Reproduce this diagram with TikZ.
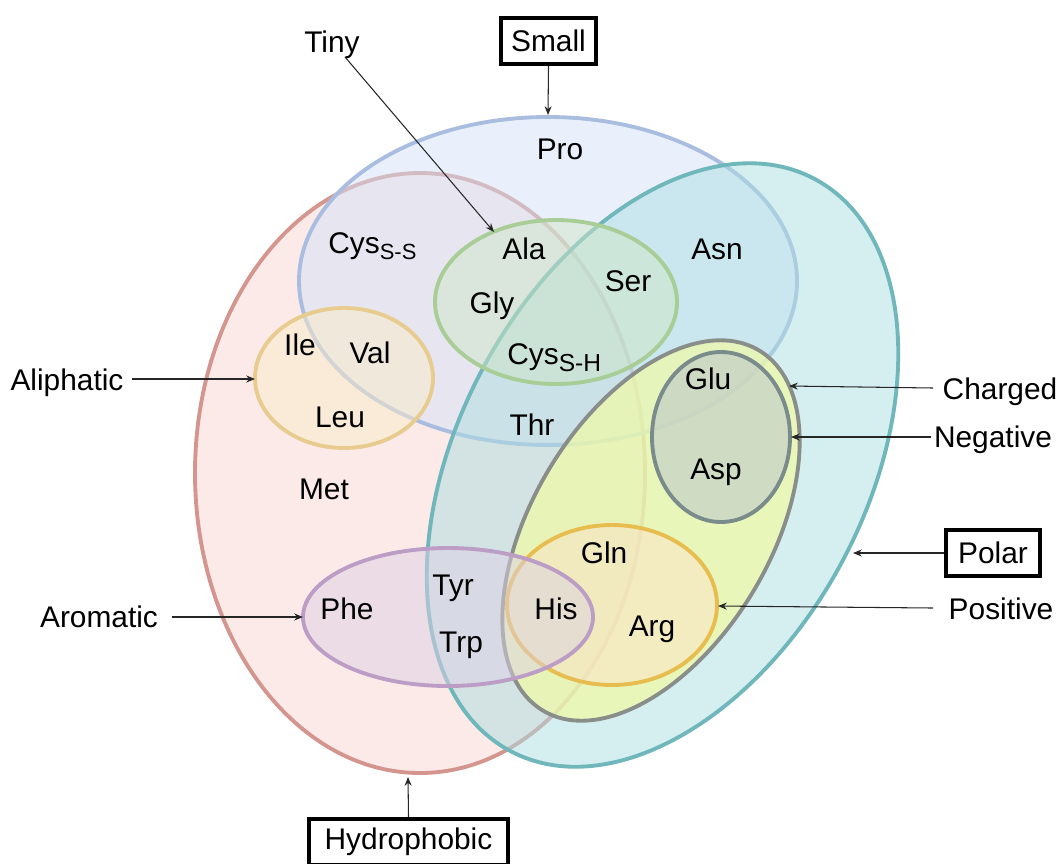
\documentclass[tikz,border=0pt]{standalone}
\usepackage{fontspec}
\setmainfont{Liberation Sans}
\usetikzlibrary{arrows.meta}
\definecolor{hydF}{HTML}{F7D5D1}\definecolor{hydD}{HTML}{D4958F}
\definecolor{smlF}{HTML}{D3E1F7}\definecolor{smlD}{HTML}{A9BDE0}
\definecolor{polF}{HTML}{ABDDE1}\definecolor{polD}{HTML}{6FB7BB}
\definecolor{tinF}{HTML}{CFE5C8}\definecolor{tinD}{HTML}{A9CD96}
\definecolor{aliF}{HTML}{FBECCA}\definecolor{aliD}{HTML}{E8CB8F}
\definecolor{chgF}{HTML}{F2FBA4}\definecolor{chgD}{HTML}{8A8E8A}
\definecolor{negF}{HTML}{B7C1CF}\definecolor{negD}{HTML}{7A8B8C}
\definecolor{posF}{HTML}{FDE1C9}\definecolor{posD}{HTML}{E8BD4F}
\definecolor{aroF}{HTML}{DDD0E4}\definecolor{aroD}{HTML}{BB9DC6}
\newcommand{\subA}[1]{\raisebox{-3.6pt}{\fontsize{12.5}{14}\selectfont #1}}
\newcommand{\subB}[1]{\raisebox{-4.4pt}{\fontsize{14}{16}\selectfont #1}}
\tikzset{
  venn/.style={line width=2.2pt, fill opacity=0.5},
  aa/.style={anchor=base, inner sep=0pt},
  lbl/.style={anchor=base, inner sep=0pt},
  boxlbl/.style={draw, line width=2.3pt, inner sep=0pt, minimum height=0.92cm},
  ptr/.style={line width=0.6pt, draw=black!85, -{Stealth[length=5pt,width=4pt]}}
}
\begin{document}
\begin{tikzpicture}[x=0.02cm,y=-0.02cm,font=\fontsize{17}{20}\selectfont]
\useasboundingbox (0,0) rectangle (1060,863);
% sets
\draw[venn, draw=hydD, fill=hydF] (420,473) ellipse [x radius=225, y radius=300];
\draw[venn, draw=smlD, fill=smlF] (548,281) ellipse [x radius=249, y radius=164];
\draw[venn, draw=polD, fill=polF, rotate around={62:(662.5,465)}] (662.5,465) ellipse [x radius=324, y radius=204];
\draw[venn, draw=tinD, fill=tinF] (556,302) ellipse [x radius=121, y radius=82];
\draw[venn, draw=aliD, fill=aliF] (344,378) ellipse [x radius=89, y radius=70];
\draw[venn, draw=chgD, fill=chgF, fill opacity=0.7, rotate around={59:(651,530.5)}] (651,530.5) ellipse [x radius=210, y radius=119];
\draw[venn, draw=negD, fill=negF] (721,437) ellipse [x radius=69, y radius=85];
\draw[venn, draw=posD, fill=posF] (612,605) ellipse [x radius=105, y radius=80];
\draw[venn, draw=aroD, fill=aroF] (448,617) ellipse [x radius=145, y radius=69];
% amino acids
\node[aa] (pro) at (560,159) {Pro};
\node[aa, anchor=base west] (cysss) at (328,253) {Cys\subA{S-S}};
\node[aa] (ala) at (524,259) {Ala};
\node[aa] (asn) at (717,259) {Asn};
\node[aa] (ser) at (628,291) {Ser};
\node[aa] (gly) at (492,313) {Gly};
\node[aa, anchor=base west] (cyssh) at (507,364) {Cys\subB{S-H}};
\node[aa] (ile) at (300,355) {Ile};
\node[aa] (val) at (370,363) {Val};
\node[aa] (leu) at (340,427) {Leu};
\node[aa] (thr) at (532,435) {Thr};
\node[aa] (met) at (324,499) {Met};
\node[aa] (glu) at (708,389) {Glu};
\node[aa] (asp) at (716,479) {Asp};
\node[aa] (gln) at (604,563) {Gln};
\node[aa] (tyr) at (453,595) {Tyr};
\node[aa] (phe) at (347,619) {Phe};
\node[aa] (his) at (556,619) {His};
\node[aa] (trp) at (461,652) {Trp};
\node[aa] (arg) at (652,636) {Arg};
% outside labels
\node[lbl] (tiny) at (332,52) {Tiny};
\node[boxlbl, minimum width=1.9cm] (small) at (548.5,41) {Small};
\node[lbl] (aliph) at (67,390) {Aliphatic};
\node[lbl] (arom) at (99,627) {Aromatic};
\node[lbl] (charged) at (1000,399) {Charged};
\node[lbl] (negative) at (993,447) {Negative};
\node[boxlbl, minimum width=1.88cm] (polar) at (993,553) {Polar};
\node[lbl] (positive) at (1001,619) {Positive};
\node[boxlbl, minimum width=3.98cm] (hydro) at (408.5,842) {Hydrophobic};
% arrow ends
\coordinate (tinyS) at (345,57);   \coordinate (tinyE) at (494,232);
\coordinate (smallE) at (548,115);
\coordinate (aliS) at (132,379);   \coordinate (aliE) at (255,379);
\coordinate (aroS) at (172,617);   \coordinate (aroE) at (303,617);
\coordinate (chgS) at (933,388);   \coordinate (chgE) at (789,386);
\coordinate (negS) at (931,437);   \coordinate (negE) at (791,437);
\coordinate (polE) at (853,553);
\coordinate (posS) at (933,608);   \coordinate (posE) at (718,606);
\coordinate (hydE) at (408,777);
\draw[ptr] (tinyS) -- (tinyE);
\draw[ptr] (small.south) -- (smallE);
\draw[ptr] (aliS) -- (aliE);
\draw[ptr] (aroS) -- (aroE);
\draw[ptr] (chgS) -- (chgE);
\draw[ptr] (negS) -- (negE);
\draw[ptr] (polar.west) -- (polE);
\draw[ptr] (posS) -- (posE);
\draw[ptr] (hydro.north) -- (hydE);
\end{tikzpicture}
\end{document}
